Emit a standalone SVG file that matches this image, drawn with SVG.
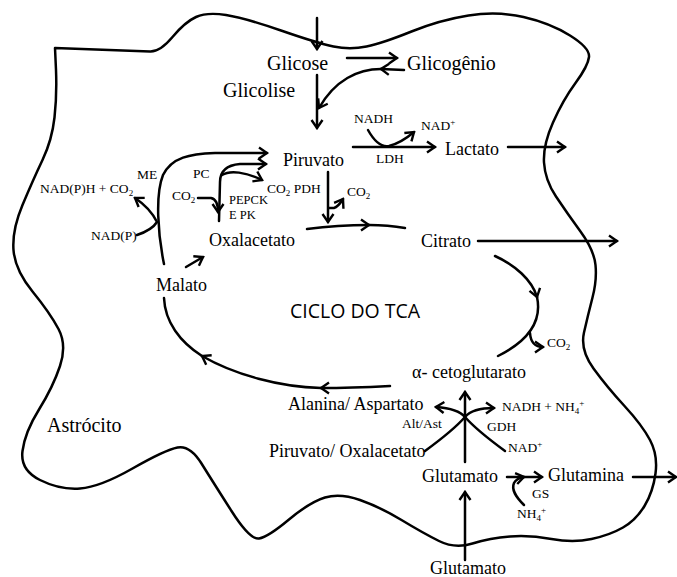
<svg xmlns="http://www.w3.org/2000/svg" width="677" height="577" viewBox="0 0 677 577">
<style>
.t{font-family:"Liberation Serif","Times New Roman",serif;fill:#000}
.b{font-size:20px}.m{font-size:18px}.s{font-size:13.5px}.xs{font-size:12.5px}
.c{font-family:"Open Sans",sans-serif;font-size:19.5px;fill:#000}
.ln{fill:none;stroke:#000;stroke-width:2.5;stroke-linecap:round;stroke-linejoin:round}
.ar{marker-end:url(#a)}
.sub{font-size:9px}
</style>
<defs>
<marker id="a" viewBox="-10 -7 12 14" refX="0" refY="0" markerWidth="12" markerHeight="14" markerUnits="userSpaceOnUse" orient="auto">
<path d="M-8,-5.5 L0,0 L-8,5.5" fill="none" stroke="#000" stroke-width="2.4" stroke-linejoin="miter"/>
</marker>
</defs>
<rect width="677" height="577" fill="#fff"/>
<g id="membrane">
<path class="ln" d="M55,48 L150,51.5 Q160,52 172.5,37 Q185,22 196,17 Q207,12 226,15 Q245,18 281,30.5 Q317,43 333.5,46.5 Q350,50 366.5,46.5 Q383,43 411.5,31.5 Q440,20 468.5,15.5 Q497,11 523.5,17 Q550,23 570,35.5 Q590,48 589,57 Q588,66 575.5,83 Q563,100 553,122.5 Q543,145 544,162.5 Q545,180 556,196.5 Q567,213 580.5,231.5 Q594,250 595.5,265 Q597,280 592.5,297.5 Q588,315 584,332.5 Q580,350 593.5,368.5 Q607,387 624.5,406 Q642,425 650,440 Q658,455 655.5,473.5 Q653,492 644.5,506 Q636,520 623,527.5 Q610,535 591.5,539 Q573,543 551.5,539 Q530,535 510,536.5 Q490,538 472.5,543.5 Q455,549 439,541 Q423,533 401.5,520 Q380,507 360,500 Q340,493 325,497.5 Q310,502 289,519.5 Q268,537 259,538.5 Q250,540 231.5,511 Q213,482 201.5,463.5 Q190,445 177.5,447.5 Q165,450 132.5,468.5 Q100,487 80,488.5 Q60,490 40,480 Q20,470 22.5,451 Q25,432 39,409.5 Q53,387 60,366 Q67,345 58.5,329 Q50,313 32.5,291.5 Q15,270 13.5,250 Q12,230 22.5,205 Q33,180 42.5,160 Q52,140 54.5,117.5 Q57,95 56,70 Z"/>
</g>
<g id="connectors">
<path class="ln ar" d="M317,18 L317,49"/>
<path class="ln ar" d="M347,58 L397,58"/>
<path class="ln ar" d="M404,70 L381,69"/>
<path class="ln ar" d="M381,69 C358,69 335,80 319,108"/>
<path class="ln ar" d="M317,75 L317,128"/>
<path class="ln ar" d="M353,147 L435,147"/>
<path class="ln ar" d="M368,130 Q378,148 389,146 Q401,143 414,132"/>
<path class="ln ar" d="M508,147 L565,147"/>
<path class="ln ar" d="M164,264 C158,235 155,195 163,175 C172,157 190,154 215,153 L267,153"/>
<path class="ln ar" d="M137,235 Q152,230 157,222 Q150,208 135,198"/>
<path class="ln ar" d="M219,221 L220,182 C220,170 228,165 240,164 L266,164"/>
<path class="ln ar" d="M222,175 C230,170 246,172 262,180"/>
<path class="ln ar" d="M198,198 L211,198 C216,199 218,203 218,212"/>
<path class="ln ar" d="M328,172 L328,222"/>
<path class="ln ar" d="M329,208 L334,208 Q338,207 343,199"/>
<path class="ln ar" d="M307,229 Q338,225 369,225"/>
<path class="ln" d="M369,225 Q388,225 405,228"/>
<path class="ln ar" d="M478,241 L617,241"/>
<path class="ln ar" d="M495,256 C515,265 532,280 537,297"/>
<path class="ln" d="M537,297 C542,320 530,340 498,356"/>
<path class="ln ar" d="M530,333 Q531,347 543,347"/>
<path class="ln ar" d="M390,386 C370,387 345,388 321,388"/>
<path class="ln ar" d="M321,388 C280,387 235,375 202,356"/>
<path class="ln" d="M202,356 C180,342 165,322 164,298"/>
<path class="ln ar" d="M186,267 L203,257"/>
<path class="ln ar" d="M465,462 L465,392"/>
<path class="ln ar" d="M425,451 C440,440 458,425 465,417 C470,411 480,408 494,408"/>
<path class="ln ar" d="M505,451 C490,440 472,425 465,417 C460,411 450,408 436,407"/>
<path class="ln ar" d="M507,477 L542,477"/>
<path class="ln ar" d="M524,505 C516,497 511,490 514,483 C516,479 519,478 524,477"/>
<path class="ln ar" d="M633,477 L676,477"/>
<path class="ln ar" d="M465,560 L465,492"/>
</g>
<g id="glicose"><text class="t b" x="267" y="70">Glicose</text></g>
<g id="glicogenio"><text class="t b" x="407" y="70">Glicogênio</text></g>
<g id="glicolise"><text class="t b" x="223" y="97">Glicolise</text></g>
<g id="nadh1"><text class="t s" x="354" y="123">NADH</text></g>
<g id="nad1"><text class="t s" x="421" y="130">NAD<tspan class="sub" dy="-5">+</tspan></text></g>
<g id="piruvato"><text class="t m" x="283" y="166">Piruvato</text></g>
<g id="lactato"><text class="t m" x="445" y="155">Lactato</text></g>
<g id="ldh"><text class="t s" x="376" y="163">LDH</text></g>
<g id="me"><text class="t s" x="137" y="179">ME</text></g>
<g id="pc"><text class="t s" x="193" y="178">PC</text></g>
<g id="nadph"><text class="t s" x="40" y="193">NAD(P)H + CO<tspan class="sub" dy="3">2</tspan></text></g>
<g id="co2a"><text class="t s" x="172" y="200">CO<tspan class="sub" dy="3">2</tspan></text></g>
<g id="pepck"><text class="t xs" x="229" y="204">PEPCK</text><text class="t xs" x="229" y="219">E PK</text></g>
<g id="co2pdh"><text class="t s" x="267" y="193">CO<tspan class="sub" dy="3">2</tspan><tspan dy="-3"> PDH</tspan></text></g>
<g id="co2b"><text class="t s" x="347" y="196">CO<tspan class="sub" dy="3">2</tspan></text></g>
<g id="nadp"><text class="t s" x="91" y="240">NAD(P)</text></g>
<g id="oxalacetato"><text class="t m" x="209" y="246">Oxalacetato</text></g>
<g id="citrato"><text class="t m" x="421" y="247">Citrato</text></g>
<g id="malato"><text class="t m" x="156" y="291">Malato</text></g>
<g id="ciclo"><text class="c" x="290" y="318">CICLO DO TCA</text></g>
<g id="co2c"><text class="t s" x="547" y="347">CO<tspan class="sub" dy="3">2</tspan></text></g>
<g id="akg"><text class="t m" x="412" y="378">α- cetoglutarato</text></g>
<g id="alanina"><text class="t m" x="288" y="410">Alanina/ Aspartato</text></g>
<g id="nadhnh4"><text class="t s" x="502" y="411">NADH + NH<tspan class="sub" dy="3">4</tspan><tspan class="sub" dy="-8">+</tspan></text></g>
<g id="altast"><text class="t s" x="402" y="428">Alt/Ast</text></g>
<g id="gdh"><text class="t s" x="487" y="431">GDH</text></g>
<g id="astrocito"><text class="t b" x="47" y="432">Astrócito</text></g>
<g id="piroxa"><text class="t m" x="269" y="457">Piruvato/ Oxalacetato</text></g>
<g id="nad2"><text class="t s" x="508" y="452">NAD<tspan class="sub" dy="-5">+</tspan></text></g>
<g id="glutamato"><text class="t m" x="422" y="482">Glutamato</text></g>
<g id="glutamina"><text class="t m" x="548" y="481">Glutamina</text></g>
<g id="gs"><text class="t s" x="532" y="498">GS</text></g>
<g id="nh4"><text class="t s" x="517" y="518">NH<tspan class="sub" dy="3">4</tspan><tspan class="sub" dy="-8">+</tspan></text></g>
<g id="glutamato2"><text class="t m" x="430" y="574">Glutamato</text></g>
</svg>
